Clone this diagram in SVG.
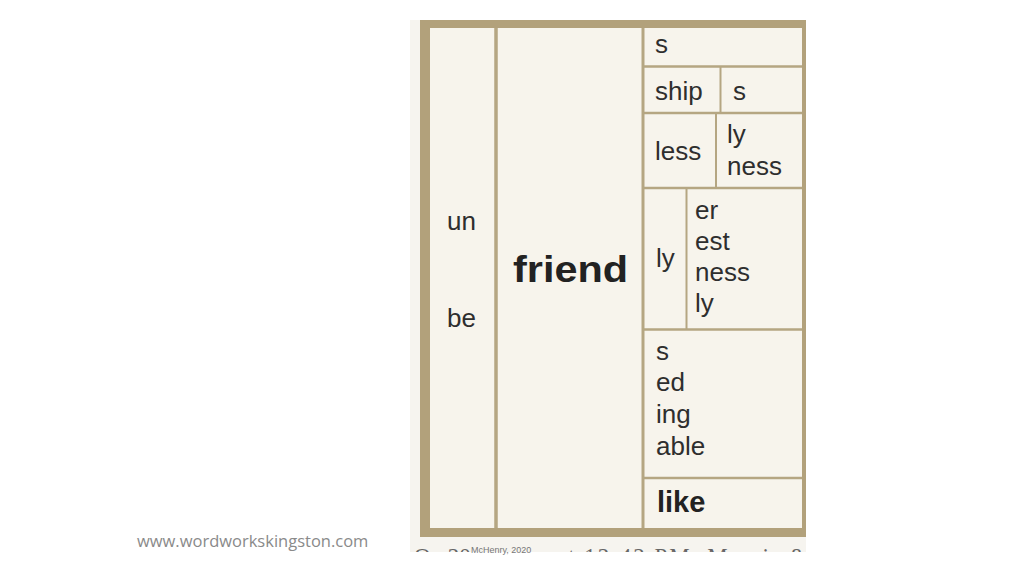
<svg xmlns="http://www.w3.org/2000/svg" width="1024" height="576" viewBox="0 0 1024 576">
  <defs>
    <style>
      .t { font-family: "Liberation Sans", Arial, sans-serif; font-size: 26px; fill: #2e2e2e; }
      .b { font-family: "Liberation Sans", Arial, sans-serif; font-weight: bold; fill: #222; }
      .ln { stroke: #b5a682; fill: none; }
      .cell { fill: #f7f4ec; }
      .cap { font-family: "Liberation Serif", serif; font-size: 23px; fill: #666; }
    </style>
    <clipPath id="pic"><rect x="410" y="20" width="396" height="532"/></clipPath>
  </defs>
  <rect width="1024" height="576" fill="#ffffff"/>

  <g id="photo" clip-path="url(#pic)">
    <rect x="410" y="20" width="396" height="532" fill="#f6f4ef"/>
    <!-- outer frame -->
    <rect x="420" y="20" width="400" height="517" fill="#b2a17b"/>
    <rect class="cell" x="430" y="28" width="372" height="500"/>
    <!-- main columns -->
    <line class="ln" x1="496" y1="28" x2="496" y2="528" stroke-width="3.5"/>
    <line class="ln" x1="643" y1="28" x2="643" y2="528" stroke-width="3"/>
    <!-- suffix rows -->
    <line class="ln" x1="643" y1="66.5" x2="803" y2="66.5" stroke-width="2.5"/>
    <line class="ln" x1="643" y1="113" x2="803" y2="113" stroke-width="2.5"/>
    <line class="ln" x1="643" y1="188" x2="803" y2="188" stroke-width="2.5"/>
    <line class="ln" x1="643" y1="329.5" x2="803" y2="329.5" stroke-width="2.5"/>
    <line class="ln" x1="643" y1="478" x2="803" y2="478" stroke-width="2.5"/>
    <!-- inner verticals -->
    <line class="ln" x1="720.5" y1="66" x2="720.5" y2="113" stroke-width="2"/>
    <line class="ln" x1="716" y1="113" x2="716" y2="188" stroke-width="2"/>
    <line class="ln" x1="686.5" y1="188" x2="686.5" y2="329" stroke-width="2"/>
    <!-- right edge -->
    <rect x="802" y="20" width="4" height="517" fill="#b2a17b"/>
    <!-- cut-off caption at bottom of photo -->
    <text class="cap" x="414" y="564">On 20</text>
    <text class="cap" x="556" y="564" letter-spacing="2">at 12:42 PM, Morris &amp; Bud</text>
  </g>

  <g id="prefixes">
    <text class="t" x="447" y="230">un</text>
    <text class="t" x="447" y="327">be</text>
  </g>
  <g id="base">
    <text class="b" x="513" y="282" font-size="37" textLength="115" lengthAdjust="spacingAndGlyphs">friend</text>
  </g>
  <g id="row-s"><text class="t" x="655" y="53">s</text></g>
  <g id="row-ship">
    <text class="t" x="655" y="100">ship</text>
    <text class="t" x="733" y="100">s</text>
  </g>
  <g id="row-less">
    <text class="t" x="655" y="160">less</text>
    <text class="t" x="727" y="143">ly</text>
    <text class="t" x="727" y="175">ness</text>
  </g>
  <g id="row-ly">
    <text class="t" x="656" y="267">ly</text>
    <text class="t" x="695" y="219">er</text>
    <text class="t" x="695" y="250">est</text>
    <text class="t" x="695" y="281">ness</text>
    <text class="t" x="695" y="312">ly</text>
  </g>
  <g id="row-verb">
    <text class="t" x="656" y="360">s</text>
    <text class="t" x="656" y="391">ed</text>
    <text class="t" x="656" y="423">ing</text>
    <text class="t" x="656" y="455">able</text>
  </g>
  <g id="row-like">
    <text class="b" x="657" y="512" font-size="29">like</text>
  </g>
  <g id="credits">
    <text x="471" y="553" font-family="Liberation Sans, Arial, sans-serif" font-size="9" fill="#777">McHenry, 2020</text>
    <text x="137" y="547" font-family="Open Sans, Liberation Sans, sans-serif" font-size="16.5" fill="#8a8a8a">www.wordworkskingston.com</text>
  </g>
</svg>
